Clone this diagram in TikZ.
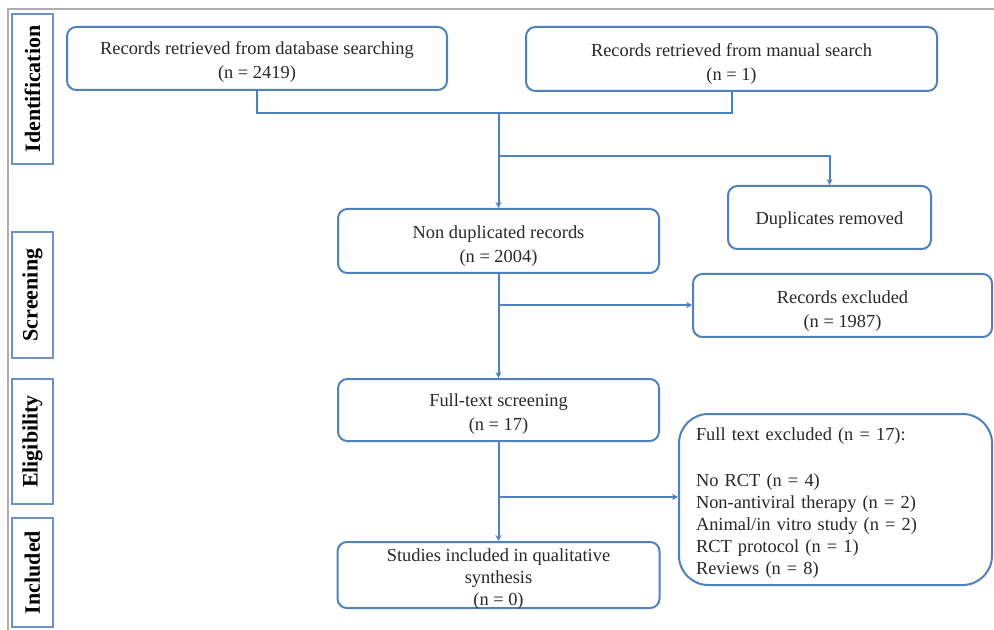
\documentclass[tikz,border=0pt]{standalone}
\usepackage{fontspec}
\setmainfont{Liberation Serif}
\usetikzlibrary{arrows.meta}
\definecolor{bxblue}{RGB}{79,129,189}
\definecolor{txt}{RGB}{40,40,40}
\definecolor{frame}{RGB}{175,175,175}
% centred / left text block, lowered a little without changing the box size
\newcommand\bxc[2][2pt]{\raisebox{-#1}[\height][\depth]{\begin{tabular}{@{}c@{}}#2\end{tabular}}}
\newcommand\bxl[2][2pt]{\raisebox{-#1}[\height][\depth]{\begin{tabular}{@{}l@{}}#2\end{tabular}}}
\tikzset{
  box/.style={draw=bxblue, line width=1.5pt, rounded corners=7pt, fill=white,
    text=txt, inner sep=0pt,
    font=\fontsize{13.8}{18}\selectfont},
  side/.style={draw=bxblue!85, line width=1.4pt, rotate=90, text=black,
    inner sep=0pt, font=\fontsize{16.5}{18}\selectfont\bfseries},
  conn/.style={draw=bxblue, line width=1.5pt},
  arr/.style={conn, -{Stealth[length=4.5pt,width=4.5pt]}},
}
\begin{document}
\begin{tikzpicture}[x=0.75pt,y=-0.75pt]
\useasboundingbox (0,0) rectangle (994,630);
% outer frame
\draw[frame, line width=0.9pt] (994,9) -- (8,9) -- (8,630);
% side labels
\node[side, minimum width=150*0.75pt, minimum height=41*0.75pt] (lid) at (32.5,89) {Identification};
\node[side, minimum width=126*0.75pt, minimum height=41*0.75pt] (lsc) at (32.5,295) {Screening};
\node[side, minimum width=125*0.75pt, minimum height=41*0.75pt] (lel) at (32.5,441.5) {Eligibility};
\node[side, minimum width=109*0.75pt, minimum height=41*0.75pt] (lin) at (32.5,572.5) {Included};
% boxes
\node[box, minimum width=380*0.75pt, minimum height=63*0.75pt] (db) at (257,58.5)
  {\bxc[2.7pt]{Records retrieved from database searching\\(n = 2419)}};
\node[box, minimum width=411*0.75pt, minimum height=64*0.75pt] (man) at (731.5,59)
  {\bxc[3.5pt]{Records retrieved from manual search\\(n = 1)}};
\node[box, minimum width=203*0.75pt, minimum height=63*0.75pt] (dup) at (829.5,217.5)
  {\bxc[1.5pt]{Duplicates removed}};
\node[box, minimum width=321*0.75pt, minimum height=64*0.75pt] (nondup) at (498.5,241)
  {\bxc[3.5pt]{Non duplicated records\\(n = 2004)}};
\node[box, minimum width=299*0.75pt, minimum height=63*0.75pt] (recex) at (842.5,305.5)
  {\bxc[3.9pt]{Records excluded\\(n = 1987)}};
\node[box, minimum width=321*0.75pt, minimum height=62*0.75pt] (full) at (498.5,410)
  {\bxc[2.7pt]{Full-text screening\\(n = 17)}};
\node[box, rounded corners=22pt, minimum width=313*0.75pt, minimum height=171*0.75pt,
  text width=279*0.75pt, inner xsep=17*0.75pt,
  font=\fontsize{13.8}{16.5}\selectfont] (ftex) at (835.5,499.5)
  {\bxl[2.6pt]{Full text excluded (n = 17):\\[18pt]
   No RCT (n = 4)\\
   Non-antiviral therapy (n = 2)\\
   Animal/in vitro study (n = 2)\\
   RCT protocol (n = 1)\\
   Reviews (n = 8)}};
\node[box, minimum width=322*0.75pt, minimum height=66*0.75pt,
  font=\fontsize{13.8}{16.2}\selectfont] (stud) at (498.5,575)
  {\bxc[3.2pt]{Studies included in qualitative\\synthesis\\(n = 0)}};
% junction coordinates
\coordinate (j2) at (498.5,113);
\coordinate (b1) at (498.5,156);
\coordinate (b2) at (498.5,305);
\coordinate (b3) at (498.5,497);
% connectors
\draw[conn] (db.south) -- (db.south |- j2) -- (j2 -| man.south) -- (man.south);
\draw[arr] (j2) -- (nondup.north);
\draw[arr] (b1) -- (b1 -| dup.north) -- (dup.north);
\draw[arr] (nondup.south) -- (full.north);
\draw[arr] (b2) -- (b2 -| recex.west);
\draw[arr] (full.south) -- (stud.north);
\draw[arr] (b3) -- (b3 -| ftex.west);
\end{tikzpicture}
\end{document}
